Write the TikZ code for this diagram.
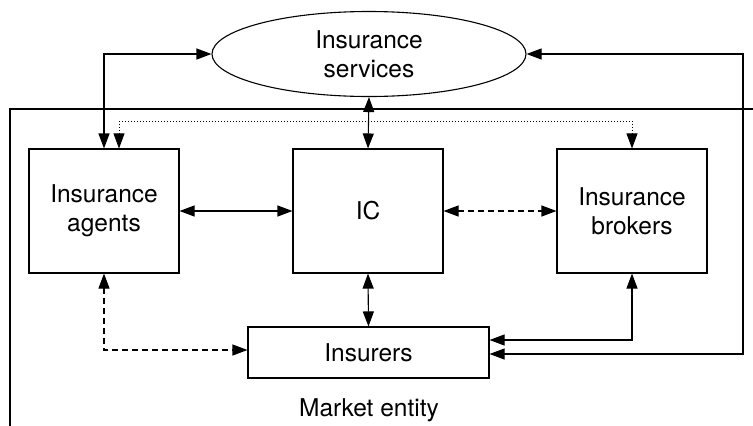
\documentclass[tikz,border=0pt]{standalone}
\usepackage{fontspec}
\setmainfont{TeX Gyre Heros}
\usetikzlibrary{shapes.geometric, arrows.meta, positioning}

\tikzset{
    tip/.style={arrows={Triangle[length=15pt,width=11pt]-Triangle[length=15pt,width=11pt]}},
    unit/.style={draw, line width=1.1pt, minimum width=150pt, minimum height=124pt, inner sep=0pt, align=center},
    link/.style={line width=1.1pt, tip},
    dashlink/.style={link, dash pattern=on 6pt off 4pt},
    dotlink/.style={tip, line width=0.8pt, dash pattern=on 1pt off 2pt},
}

\begin{document}
\begin{tikzpicture}[x=1pt, y=-1pt, font=\fontsize{24.5}{29}\selectfont]
\useasboundingbox (0,0) rectangle (753,426);

\node[draw, ellipse, line width=1.1pt, minimum width=314pt, minimum height=85pt, inner sep=0pt, align=center] (serv) at (369, 54) {Insurance\\services};

\node[unit] (agents) at (104, 211) {Insurance\\agents};
\node[unit] (ic) at (368, 211) {IC};
\node[unit] (brokers) at (632, 211) {Insurance\\brokers};
\node[draw, line width=1.1pt, minimum width=241pt, minimum height=51pt, inner sep=0pt] (ins) at (368.5, 352.5) {Insurers};

\node (market) at (369, 410) {Market entity};
\draw[line width=1.1pt] (753, 109) -| (10, 426);

\coordinate (rt) at (743, 354);

\draw[link] (agents.north) |- (serv.west);
\draw[dotlink] ([xshift=15pt]agents.north) |- ([yshift=27pt]brokers.north) -- (brokers.north);
\draw[link] (serv.south) -- (ic.north);
\draw[link] (serv.east) -| (rt) -- (ins.east |- rt);

\draw[link] (agents.east) -- (ic.west);
\draw[dashlink] (ic.east) -- (brokers.west);

\draw[link] (ic.south) -- (ins.north);
\draw[dashlink] (agents.south) |- ([yshift=2.5pt]ins.west);
\draw[link] (brokers.south) |- ([yshift=12.5pt]ins.east);
\end{tikzpicture}
\end{document}
